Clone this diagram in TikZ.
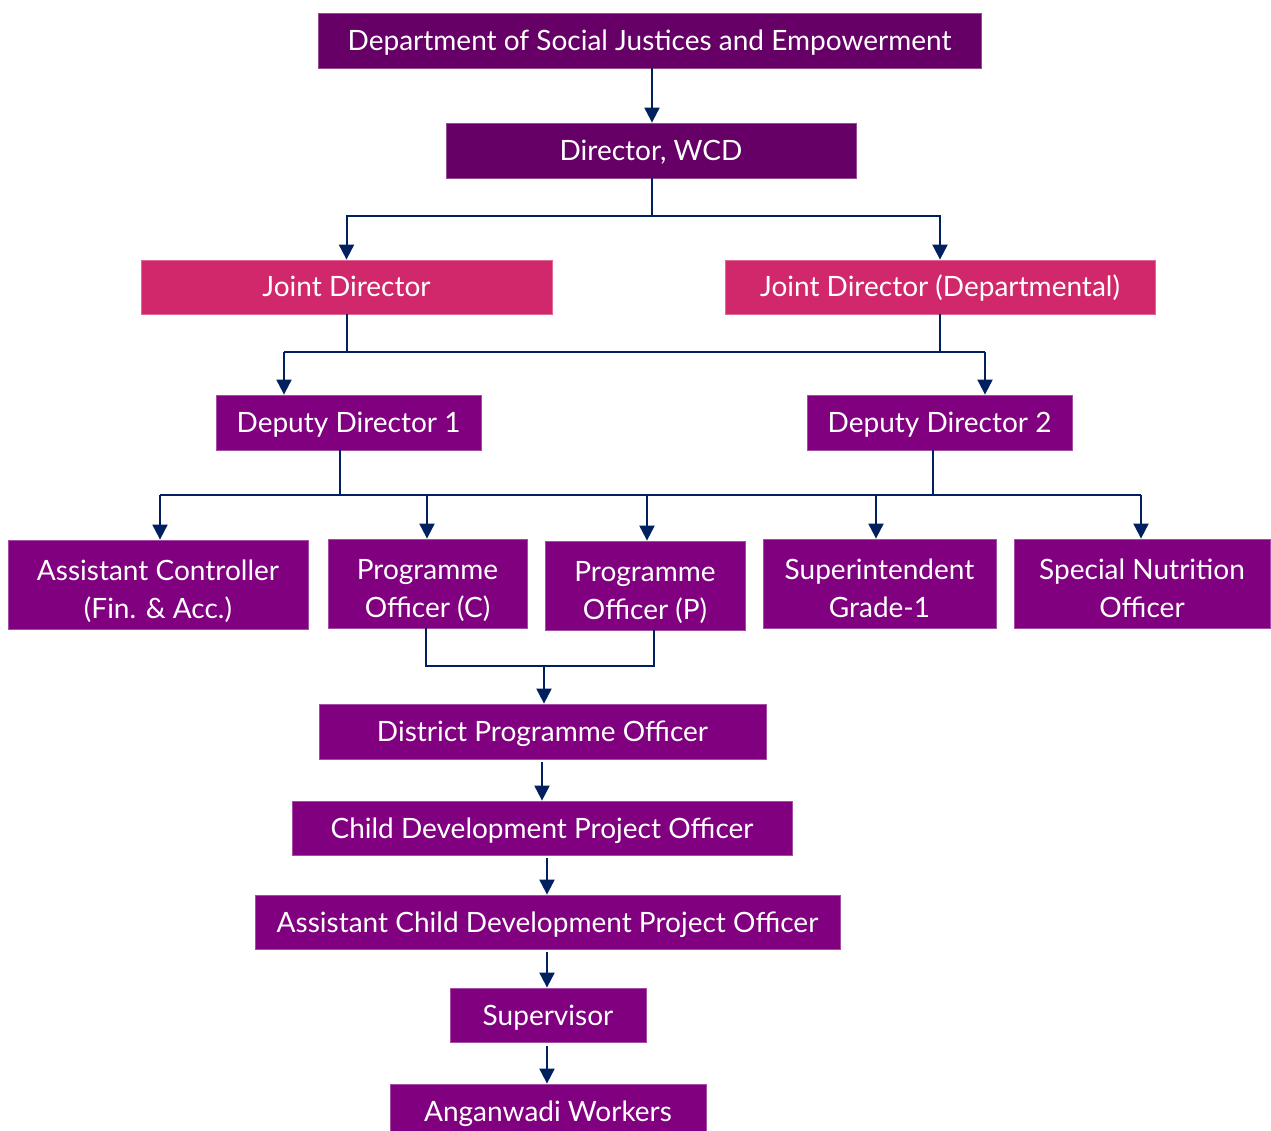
\documentclass[tikz,border=0pt]{standalone}
\usepackage{fontspec}
\setmainfont{Lato}
\usetikzlibrary{arrows.meta}
\definecolor{darkpur}{HTML}{660066}
\definecolor{pinkc}{HTML}{D1276B}
\definecolor{purc}{HTML}{800080}
\definecolor{navy}{HTML}{002060}
\newcommand{\toprule}[1]{\rule{0pt}{#1}}
\tikzset{
  box/.style={rectangle, inner sep=0pt, text=white, font=\fontsize{28}{38}\selectfont, align=center, line width=0.8pt,
    execute at begin node={\rule{0pt}{28pt}}, execute at end node={\rule[-8pt]{0pt}{8pt}}},
  topbox/.style={box, fill=darkpur, draw=darkpur!70!white},
  jdbox/.style={box, fill=pinkc, draw=pinkc!70!white},
  pbox/.style={box, fill=purc, draw=purc!70!white},
  conn/.style={draw=navy, line width=2pt},
  arr/.style={conn, -{Triangle[width=15pt,length=15pt]}},
}
\begin{document}
\begin{tikzpicture}[x=1pt,y=-1pt]
\useasboundingbox (0,0) rectangle (1271,1131);
\node[topbox, minimum width=663, minimum height=55] (dept) at (649.5,40.5) {Department of Social Justices and Empowerment};
\node[topbox, minimum width=410, minimum height=55] (dir) at (651,150.5) {Director, WCD};
\node[jdbox, minimum width=411, minimum height=54] (jd) at (346.5,287) {Joint Director};
\node[jdbox, minimum width=430, minimum height=54] (jdd) at (940,287) {Joint Director (Departmental)};
\node[pbox, minimum width=265, minimum height=55] (dd1) at (348.5,422.5) {Deputy Director 1};
\node[pbox, minimum width=265, minimum height=55] (dd2) at (939.5,422.5) {Deputy Director 2};
\node[pbox, minimum width=300, minimum height=89] (ac) at (158,584.5) {\toprule{37pt}Assistant Controller\\(Fin. \& Acc.)};
\node[pbox, minimum width=199, minimum height=89] (poc) at (427.5,583.5) {\toprule{37pt}Programme\\Officer (C)};
\node[pbox, minimum width=200, minimum height=89] (pop) at (645,585.5) {\toprule{37pt}Programme\\Officer (P)};
\node[pbox, minimum width=233, minimum height=89] (sg) at (879.5,583.5) {\toprule{37pt}Superintendent\\Grade-1};
\node[pbox, minimum width=256, minimum height=89] (sno) at (1142,583.5) {\toprule{37pt}Special Nutrition\\Officer};
\node[pbox, minimum width=447, minimum height=55] (dpo) at (542.5,731.5) {District Programme Officer};
\node[pbox, minimum width=500, minimum height=54] (cdpo) at (542,828) {Child Development Project Officer};
\node[pbox, minimum width=585, minimum height=54] (acdpo) at (547.5,922) {Assistant Child Development Project Officer};
\node[pbox, minimum width=196, minimum height=54] (supv) at (548,1015) {Supervisor};
\node[pbox, minimum width=316, minimum height=55] (aw) at (548,1111.5) {Anganwadi Workers};
% level 1
\coordinate (a0) at (652,68);
\draw[arr] (dept.south -| a0) -- (dir.north -| a0);
\coordinate (b1) at (652,216);
\draw[conn] (dir.south -| b1) -- (b1);
\draw[arr] (b1) -| (jd.north);
\draw[arr] (b1) -| (jdd.north);
% level 2
\coordinate (h2L) at (284,352);
\coordinate (h2R) at (985,352);
\draw[conn] (jd.south) -- (jd.south |- h2L);
\draw[conn] (jdd.south) -- (jdd.south |- h2L);
\draw[conn] (h2L) -- (h2R);
\draw[arr] (h2L) -- (h2L |- dd1.north);
\draw[arr] (h2R) -- (h2R |- dd2.north);
% level 3
\coordinate (h3L) at (160,495);
\coordinate (h3R) at (1141,495);
\coordinate (d1) at (340,495);
\coordinate (d2) at (933,495);
\draw[conn] (dd1.south -| d1) -- (d1);
\draw[conn] (dd2.south -| d2) -- (d2);
\draw[conn] (h3L) -- (h3R);
\draw[arr] (h3L) -- (h3L |- ac.north);
\draw[arr] (427,495) coordinate (t2) -- (t2 |- poc.north);
\draw[arr] (647,495) coordinate (t3) -- (t3 |- pop.north);
\draw[arr] (876,495) coordinate (t4) -- (t4 |- sg.north);
\draw[arr] (h3R) -- (h3R |- sno.north);
% merge
\coordinate (mL) at (426,666);
\coordinate (mR) at (654,666);
\coordinate (mM) at (544,666);
\draw[conn] (poc.south -| mL) -- (mL) -- (mR) -- (pop.south -| mR);
\draw[arr] (mM) -- (mM |- dpo.north);
% chain
\coordinate (c1) at (542,762);
\draw[arr] (c1) -- (c1 |- cdpo.north);
\coordinate (c2) at (547,858);
\draw[arr] (c2) -- (c2 |- acdpo.north);
\coordinate (c3) at (547,952);
\draw[arr] (c3) -- (c3 |- supv.north);
\coordinate (c4) at (547,1046);
\draw[arr] (c4) -- (c4 |- aw.north);
\end{tikzpicture}
\end{document}
